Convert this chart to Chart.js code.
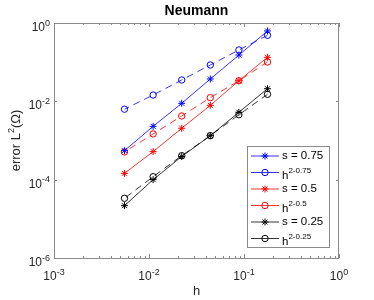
<!DOCTYPE html>
<html>
<head>
<meta charset="utf-8">
<script src="https://cdn.jsdelivr.net/npm/chart.js"></script>
<style>
  html, body { margin: 0; padding: 0; background: #fff; }
  #wrap { width: 374px; height: 300px; position: relative; }
</style>
</head>
<body>
<div id="wrap"><canvas id="chart"></canvas></div>
<script>
// mesh sizes h
const H = [0.1768, 0.0884, 0.0442, 0.0221, 0.01105, 0.00552];

// L2 errors (stars) and reference slopes h^(2-s) (circles)
const ERR_S075 = [0.625, 0.152, 0.0372, 0.0089, 0.0023, 0.00055];
const REF_S075 = [0.485, 0.205, 0.0847, 0.0351, 0.0145, 0.0063];
const ERR_S050 = [0.133, 0.0336, 0.0079, 0.00205, 0.00052, 0.000145];
const REF_S050 = [0.101, 0.0336, 0.0124, 0.00423, 0.00147, 0.00051];
const ERR_S025 = [0.021, 0.00525, 0.00133, 0.00039, 0.0001, 0.0000217];
const REF_S025 = [0.0151, 0.00455, 0.00133, 0.00041, 0.000119, 0.0000335];

const SERIES_LABELS = ["s = 0.75", "h^2-0.75", "s = 0.5", "h^2-0.5", "s = 0.25", "h^2-0.25"];

const X_TICKS = [1e-3, 1e-2, 1e-1, 1];
const X_TICK_LABELS = ["10^-3", "10^-2", "10^-1", "10^0"];
const Y_TICKS = [1, 1e-2, 1e-4, 1e-6];
const Y_TICK_LABELS = ["10^0", "10^-2", "10^-4", "10^-6"];

const FONT = "'Liberation Sans', Arial, sans-serif";
const TEXT = "#262626";
const AXIS = "#8a8a8a";

function pts(ys) {
  return H.map((h, i) => ({ x: h, y: ys[i] }));
}

function series(label, ys, color, marker) {
  const dashed = marker === "circle";
  return {
    label,
    data: pts(ys),
    borderColor: color,
    backgroundColor: color,
    borderWidth: 0.8,
    borderDash: dashed ? [7, 5] : [],
    pointStyle: dashed ? "circle" : "star",
    pointRadius: dashed ? 3.2 : 3.5,
    pointBorderWidth: 1,
    pointBackgroundColor: "rgba(0,0,0,0)",
    pointBorderColor: color,
    showLine: true,
    tension: 0,
  };
}

// text with a raised exponent, label written as "base^exp"
function drawPow(ctx, label, x, y, align, size) {
  const [base, exp] = label.split("^");
  const baseFont = `${size}px ${FONT}`;
  const expFont = `${Math.round(size * 0.72)}px ${FONT}`;
  ctx.font = baseFont;
  const wb = ctx.measureText(base).width;
  ctx.font = expFont;
  const we = exp ? ctx.measureText(exp).width : 0;
  const total = wb + we;
  let x0 = x;
  if (align === "right") x0 = x - total;
  else if (align === "center") x0 = x - total / 2;
  ctx.textAlign = "left";
  ctx.textBaseline = "alphabetic";
  ctx.font = baseFont;
  ctx.fillText(base, x0, y);
  if (exp) {
    ctx.font = expFont;
    ctx.fillText(exp, x0 + wb, y - size * 0.45);
  }
}

function drawMarker(ctx, type, x, y, r, color) {
  ctx.save();
  ctx.strokeStyle = color;
  ctx.lineWidth = 1;
  ctx.setLineDash([]);
  ctx.beginPath();
  if (type === "circle") {
    ctx.arc(x, y, r, 0, Math.PI * 2);
  } else {
    const d = r * Math.SQRT1_2;
    ctx.moveTo(x - r, y); ctx.lineTo(x + r, y);
    ctx.moveTo(x, y - r); ctx.lineTo(x, y + r);
    ctx.moveTo(x - d, y - d); ctx.lineTo(x + d, y + d);
    ctx.moveTo(x - d, y + d); ctx.lineTo(x + d, y - d);
  }
  ctx.stroke();
  ctx.restore();
}

const axesPlugin = {
  id: "matlabAxes",
  afterDraw(chart) {
    const ctx = chart.ctx;
    const { left, right, top, bottom } = chart.chartArea;
    const xs = chart.scales.x;
    const ys = chart.scales.y;
    ctx.save();

    // box
    ctx.strokeStyle = AXIS;
    ctx.lineWidth = 1;
    ctx.strokeRect(Math.round(left) + 0.5, Math.round(top) + 0.5,
      Math.round(right - left) - 1, Math.round(bottom - top));

    // x ticks, major and minor, bottom and top
    ctx.beginPath();
    for (let d = -3; d <= 0; d++) {
      for (let m = 1; m <= 9; m++) {
        const v = m * Math.pow(10, d);
        if (v > 1 + 1e-9) break;
        const px = Math.round(xs.getPixelForValue(v)) + 0.5;
        const len = m === 1 ? 4 : 2;
        ctx.moveTo(px, bottom); ctx.lineTo(px, bottom - len);
        ctx.moveTo(px, top); ctx.lineTo(px, top + len);
        if (m === 1 && d === 0) break;
      }
    }
    // y ticks, left and right
    Y_TICKS.forEach((v) => {
      const py = Math.round(ys.getPixelForValue(v)) + 0.5;
      ctx.moveTo(left, py); ctx.lineTo(left + 3, py);
      ctx.moveTo(right, py); ctx.lineTo(right - 3, py);
    });
    ctx.stroke();

    // tick labels
    ctx.fillStyle = TEXT;
    X_TICKS.forEach((v, i) => {
      drawPow(ctx, X_TICK_LABELS[i], xs.getPixelForValue(v), bottom + 22, "center", 12);
    });
    Y_TICKS.forEach((v, i) => {
      drawPow(ctx, Y_TICK_LABELS[i], left - 4, ys.getPixelForValue(v) + 8, "right", 12);
    });

    // axis titles
    const cx = (left + right) / 2;
    ctx.font = `13px ${FONT}`;
    ctx.textAlign = "center";
    ctx.textBaseline = "middle";
    ctx.fillText("h", cx, 291);

    ctx.save();
    ctx.translate(15, (top + bottom) / 2);
    ctx.rotate(-Math.PI / 2);
    ctx.font = `13px ${FONT}`;
    const a = "error L", b = "(\u03A9)";
    const wa = ctx.measureText(a).width, wb = ctx.measureText(b).width;
    ctx.font = `9px ${FONT}`;
    const w2 = ctx.measureText("2").width;
    let x0 = -(wa + w2 + wb) / 2;
    ctx.textAlign = "left";
    ctx.textBaseline = "alphabetic";
    ctx.font = `13px ${FONT}`;
    ctx.fillText(a, x0, 5);
    ctx.font = `9px ${FONT}`;
    ctx.fillText("2", x0 + wa, -1);
    ctx.font = `13px ${FONT}`;
    ctx.fillText(b, x0 + wa + w2, 5);
    ctx.restore();

    // title
    ctx.fillStyle = "#000";
    ctx.font = `bold 14px ${FONT}`;
    ctx.textAlign = "center";
    ctx.textBaseline = "middle";
    ctx.fillText("Neumann", cx, 11);

    // legend
    const lx = 247.5, ly = 146.5, lw = 82, lh = 101;
    ctx.fillStyle = "#fff";
    ctx.fillRect(lx, ly, lw, lh);
    ctx.strokeStyle = AXIS;
    ctx.strokeRect(lx, ly, lw, lh);
    chart.data.datasets.forEach((ds, i) => {
      const ry = 156 + i * 16.5;
      ctx.strokeStyle = ds.borderColor;
      ctx.lineWidth = 0.8;
      ctx.beginPath();
      ctx.moveTo(251, ry); ctx.lineTo(279, ry);
      ctx.stroke();
      drawMarker(ctx, ds.pointStyle, 265, ry, ds.pointStyle === "circle" ? 3.2 : 3.5, ds.borderColor);
      ctx.fillStyle = "#000";
      if (ds.label.includes("^")) {
        drawPow(ctx, ds.label, 282, ry + 6, "left", 11.5);
      } else {
        ctx.font = `11.5px ${FONT}`;
        ctx.textAlign = "left";
        ctx.textBaseline = "middle";
        ctx.fillText(ds.label, 282, ry);
      }
    });
    ctx.restore();
  },
};

new Chart(document.getElementById("chart"), {
  type: "scatter",
  data: {
    datasets: [
      series(SERIES_LABELS[0], ERR_S075, "#0000ff", "star"),
      series(SERIES_LABELS[1], REF_S075, "#0000ff", "circle"),
      series(SERIES_LABELS[2], ERR_S050, "#ff0000", "star"),
      series(SERIES_LABELS[3], REF_S050, "#ff0000", "circle"),
      series(SERIES_LABELS[4], ERR_S025, "#000000", "star"),
      series(SERIES_LABELS[5], REF_S025, "#000000", "circle"),
    ],
  },
  options: {
    responsive: true,
    maintainAspectRatio: false,
    animation: false,
    devicePixelRatio: 1,
    layout: { padding: { left: 54, right: 35, top: 23, bottom: 42 } },
    plugins: {
      legend: { display: false },
      title: { display: false },
      tooltip: { enabled: false },
    },
    scales: {
      x: { type: "logarithmic", min: 1e-3, max: 1, display: false },
      y: { type: "logarithmic", min: 1e-6, max: 1, display: false },
    },
  },
  plugins: [axesPlugin],
});
</script>
</body>
</html>
